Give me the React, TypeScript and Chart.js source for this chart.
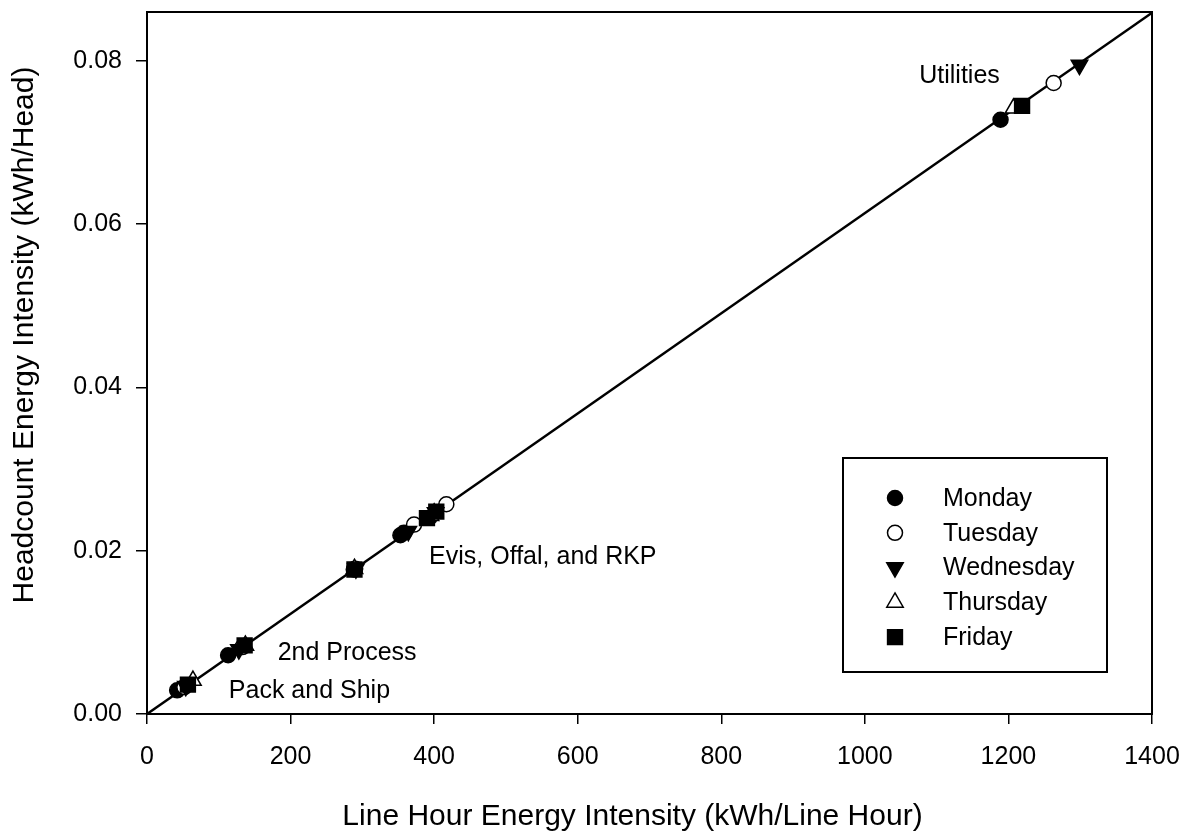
import React, { useEffect, useRef } from "react";
import { Chart, registerables } from "chart.js";

Chart.register(...registerables);

// ---- Data ----
const dayNames = ["Monday", "Tuesday", "Wednesday", "Thursday", "Friday"];

// Line-hour energy intensity (kWh/Line Hour) and headcount intensity (kWh/Head) per department, per day
const mondayX = [42, 113, 288, 353, 358, 1189];
const mondayY = [0.0029, 0.0072, 0.0177, 0.0219, 0.0222, 0.0728];

const tuesdayX = [52, 133, 290, 372, 417, 1263];
const tuesdayY = [0.0033, 0.0082, 0.0178, 0.0232, 0.0257, 0.0773];

const wednesdayX = [54, 128, 291, 364, 402, 1299];
const wednesdayY = [0.0034, 0.0079, 0.0178, 0.0224, 0.0247, 0.0795];

const thursdayX = [64, 137, 289, 395, 400, 1207];
const thursdayY = [0.0041, 0.0084, 0.0178, 0.0243, 0.0246, 0.0742];

const fridayX = [57, 136, 289, 390, 403, 1219];
const fridayY = [0.0036, 0.0084, 0.0177, 0.0240, 0.0248, 0.0745];

// Regression line endpoints
const fitX = [0, 1400];
const fitY = [0, 0.0859];

// Axis ranges / ticks
const xMin = 0;
const xMax = 1400;
const xStep = 200;
const yMin = 0;
const yMax = 0.086;
const yStep = 0.02;

const xTitle = "Line Hour Energy Intensity (kWh/Line Hour)";
const yTitle = "Headcount Energy Intensity (kWh/Head)";

// Annotations (text, x, y in data units, alignment)
const noteTexts = ["Utilities", "Evis, Offal, and RKP", "2nd Process", "Pack and Ship"];
const noteX = [1188, 393, 182, 114];
const noteY = [0.0781, 0.0192, 0.0075, 0.0028];
const noteAlign: CanvasTextAlign[] = ["right", "left", "left", "left"];

const FONT = '"Liberation Sans", Arial, Helvetica, sans-serif';

function pts(xs: number[], ys: number[]) {
  return xs.map((x, i) => ({ x, y: ys[i] }));
}

type MarkerSpec = { style: string; rotation: number; radius: number; fill: string };
const markerSpecs: MarkerSpec[] = [
  { style: "circle", rotation: 0, radius: 7.5, fill: "#000" },
  { style: "circle", rotation: 0, radius: 7.5, fill: "#fff" },
  { style: "triangle", rotation: 180, radius: 9.5, fill: "#000" },
  { style: "triangle", rotation: 0, radius: 9.5, fill: "#fff" },
  { style: "rect", rotation: 0, radius: 10.5, fill: "#000" },
];

function drawMarker(ctx: CanvasRenderingContext2D, m: MarkerSpec, x: number, y: number) {
  ctx.save();
  ctx.beginPath();
  if (m.style === "circle") {
    ctx.arc(x, y, m.radius, 0, Math.PI * 2);
  } else if (m.style === "rect") {
    const s = Math.SQRT1_2 * m.radius;
    ctx.rect(x - s, y - s, 2 * s, 2 * s);
  } else {
    let rad = (m.rotation * Math.PI) / 180;
    for (let k = 0; k < 3; k++) {
      const px = x + Math.sin(rad) * m.radius;
      const py = y - Math.cos(rad) * m.radius;
      if (k === 0) ctx.moveTo(px, py);
      else ctx.lineTo(px, py);
      rad += (2 * Math.PI) / 3;
    }
    ctx.closePath();
  }
  ctx.fillStyle = m.fill;
  ctx.fill();
  ctx.lineWidth = 1.5;
  ctx.strokeStyle = "#000";
  ctx.stroke();
  ctx.restore();
}

const framePlugin = {
  id: "frame",
  afterDraw(chart: any) {
    const { ctx, chartArea } = chart;
    ctx.save();
    ctx.strokeStyle = "#000";
    ctx.lineWidth = 2;
    ctx.strokeRect(chartArea.left, chartArea.top, chartArea.right - chartArea.left, chartArea.bottom - chartArea.top);
    ctx.restore();
  },
};

const titlesPlugin = {
  id: "axisTitles",
  afterDraw(chart: any) {
    const { ctx, chartArea } = chart;
    ctx.save();
    ctx.fillStyle = "#000";
    ctx.font = `30px ${FONT}`;
    ctx.textAlign = "center";
    ctx.textBaseline = "middle";
    const cx = (chartArea.left + chartArea.right) / 2 - 17;
    ctx.fillText(xTitle, cx, chartArea.bottom + 103);
    const cy = (chartArea.top + chartArea.bottom) / 2 - 28;
    ctx.translate(chartArea.left - 122, cy);
    ctx.rotate(-Math.PI / 2);
    ctx.fillText(yTitle, 0, 0);
    ctx.restore();
  },
};

const notesPlugin = {
  id: "notes",
  afterDatasetsDraw(chart: any) {
    const { ctx, scales } = chart;
    ctx.save();
    ctx.fillStyle = "#000";
    ctx.font = `25px ${FONT}`;
    ctx.textBaseline = "middle";
    noteTexts.forEach((t, i) => {
      ctx.textAlign = noteAlign[i];
      ctx.fillText(t, scales.x.getPixelForValue(noteX[i]), scales.y.getPixelForValue(noteY[i]));
    });
    ctx.restore();
  },
};

const legendPlugin = {
  id: "boxLegend",
  afterDraw(chart: any) {
    const { ctx } = chart;
    const boxL = 843, boxT = 458, boxR = 1107, boxB = 672;
    ctx.save();
    ctx.fillStyle = "#fff";
    ctx.fillRect(boxL, boxT, boxR - boxL, boxB - boxT);
    ctx.strokeStyle = "#000";
    ctx.lineWidth = 2;
    ctx.strokeRect(boxL, boxT, boxR - boxL, boxB - boxT);
    ctx.font = `25px ${FONT}`;
    ctx.textAlign = "left";
    ctx.textBaseline = "middle";
    const dayDatasets = chart.data.datasets.filter((d: any) => d.isDay);
    dayDatasets.forEach((d: any, i: number) => {
      const y = 498 + i * 34.8;
      drawMarker(ctx, markerSpecs[i], 895, y);
      ctx.fillStyle = "#000";
      ctx.fillText(d.label, 943, y + 1);
    });
    ctx.restore();
  },
};

function zeroPadding(s: any) {
  s.paddingTop = 0;
  s.paddingBottom = 0;
  s.paddingLeft = 0;
  s.paddingRight = 0;
}

export default function App() {
  const canvasRef = useRef<HTMLCanvasElement | null>(null);

  useEffect(() => {
    document.body.style.margin = "0";
    const canvas = canvasRef.current;
    if (!canvas) return;

    const dayX = [mondayX, tuesdayX, wednesdayX, thursdayX, fridayX];
    const dayY = [mondayY, tuesdayY, wednesdayY, thursdayY, fridayY];

    const dayDatasets = dayNames.map((name, i) => {
      const m = markerSpecs[i];
      return {
        type: "scatter" as const,
        label: name,
        isDay: true,
        data: pts(dayX[i], dayY[i]),
        pointStyle: m.style,
        rotation: m.rotation,
        pointRotation: m.rotation,
        pointRadius: m.radius,
        pointHoverRadius: m.radius,
        backgroundColor: m.fill,
        borderColor: "#000",
        borderWidth: 1.5,
        showLine: false,
        order: 5 - i,
      };
    });

    const chart = new Chart(canvas, {
      type: "scatter",
      data: {
        datasets: [
          {
            type: "line" as const,
            label: "fit",
            data: pts(fitX, fitY),
            borderColor: "#000",
            borderWidth: 2.5,
            pointRadius: 0,
            showLine: true,
            fill: false,
            order: 10,
          } as any,
          ...(dayDatasets as any[]),
        ],
      },
      options: {
        responsive: false,
        animation: false,
        devicePixelRatio: 1,
        layout: { padding: { left: 0, top: 10, right: 36, bottom: 0 } },
        plugins: {
          legend: { display: false },
          tooltip: { enabled: false },
        },
        scales: {
          x: {
            type: "linear",
            min: xMin,
            max: xMax,
            afterFit: (s: any) => {
              s.height = 119;
              zeroPadding(s);
            },
            border: { display: true, color: "#000", width: 2 },
            grid: {
              drawOnChartArea: false,
              drawTicks: true,
              tickLength: 10,
              color: "#000",
              lineWidth: 1.5,
            },
            ticks: {
              stepSize: xStep,
              includeBounds: false,
              color: "#000",
              padding: 18,
              maxRotation: 0,
              font: { family: FONT, size: 25 },
              callback: (v: any) => String(v),
            },
            title: { display: false },
          },
          y: {
            type: "linear",
            min: yMin,
            max: yMax,
            afterFit: (s: any) => {
              s.width = 147;
              zeroPadding(s);
            },
            border: { display: true, color: "#000", width: 2 },
            grid: {
              drawOnChartArea: false,
              drawTicks: true,
              tickLength: 11,
              color: "#000",
              lineWidth: 1.5,
            },
            ticks: {
              stepSize: yStep,
              includeBounds: false,
              color: "#000",
              padding: 14,
              font: { family: FONT, size: 25 },
              callback: (v: any) => Number(v).toFixed(2),
            },
            title: { display: false },
          },
        },
      },
      plugins: [framePlugin, notesPlugin, legendPlugin, titlesPlugin],
    } as any);

    return () => {
      chart.destroy();
    };
  }, []);

  return (
    <div style={{ width: 1188, height: 833, background: "#fff" }}>
      <canvas ref={canvasRef} width={1188} height={833} style={{ display: "block" }} />
    </div>
  );
}
